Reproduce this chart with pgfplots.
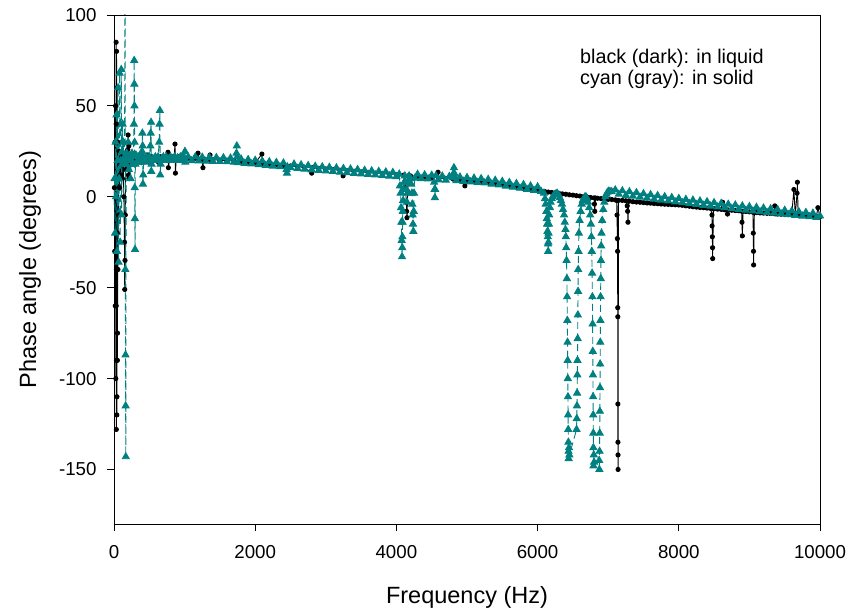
\documentclass[border=0pt]{standalone}
\usepackage{fontspec}
\setmainfont{Liberation Sans}
\usepackage{pgfplots}
\pgfplotsset{compat=1.18}
\definecolor{tealc}{RGB}{0,128,128}
\begin{document}
\begin{tikzpicture}
\useasboundingbox (-114pt,-87pt) rectangle (738pt,524pt);
\begin{axis}[
  scale only axis, width=706pt, height=509pt,
  xmin=0, xmax=10000, ymin=-180, ymax=100,
  xtick={0,2000,4000,6000,8000,10000},
  ytick={-150,-100,-50,0,50,100},
  scaled x ticks=false,
  xtick pos=bottom, ytick pos=left, tick align=outside,
  major tick length=7pt,
  axis line style={line width=0.9pt},
  tick style={line width=0.9pt, black},
  /pgf/number format/assume math mode=true,
  /pgf/number format/1000 sep={},
  ticklabel style={font=\fontsize{18.7}{21}\selectfont},
  xticklabel style={yshift=-11pt},
  yticklabel style={xshift=-7pt},
  xlabel={Frequency (Hz)}, ylabel={Phase angle (degrees)},
  label style={font=\fontsize{23.5}{26}\selectfont},
  xlabel style={at={(axis description cs:0.5,-0.1434)}, anchor=center},
  ylabel style={at={(axis description cs:-0.119,0.5)}, anchor=center},
]
% black (in liquid)
\addplot[black, line width=0.9pt, mark=*, mark size=2.1pt] coordinates {
(5,5) (10,-30) (14,30) (18,-60) (22,50) (26,-100) (28,-20) (30,85) (31,40) (32,-60) (33,-128) (34,-90) (35,-40) (36,80) (38,20) (40,-120) (42,-110) (44,60) (46,-20) (48,-90) (50,-75) (52,30) (56,-40) (60,20) (66,-10) (72,25) (80,5) (90,20) (100,12) (110,22) (120,10) (130,20) (140,0) (148,-25) (152,-51) (156,-35) (160,-10) (165,15) (175,22) (185,18) (195,26) (200,34) (205,12) (210,28) (215,10) (222,22) (240,20) (260,23) (280,18) (300,22) (330,20) (360,23) (390,19) (420,22) (450,20) (480,23) (510,19) (540,22) (570,20) (600,22) (630,19) (660,22) (690,20) (720,22) (750,20) (765,24.5) (770,16) (790,21) (820,22) (850,20) (864,29) (870,13) (880,20) (910,22) (940,20) (970,22) (1000,20.5)
(1050,21) (1100,20.5) (1150,21.2) (1190,24) (1200,20.8) (1250,20.4) (1260,16) (1270,20.6) (1300,20.2) (1360,23) (1370,20) (1400,20.4) (1500,20.1) (1600,19.9) (1700,19.7) (1800,19.3) (1900,19.0) (2000,18.6) (2095,23.5) (2100,18.3) (2200,18.0) (2300,17.6) (2400,17.2) (2500,16.9) (2600,16.5) (2700,16.2) (2800,13) (2810,16) (2900,15.6) (3000,15.3) (3100,15.0) (3200,14.6) (3245,11.5) (3300,14.3) (3400,14.0) (3500,13.7) (3600,13.3) (3700,13.0) (3800,12.8) (3900,12.5) (4000,12.2) (4100,11.9) (4130,5) (4140,-3) (4145,-8) (4150,-11.5) (4160,3) (4170,11.6) (4200,11.5) (4300,11.2) (4400,10.9) (4500,10.6) (4590,13.5) (4600,10.3) (4700,10.0) (4800,9.8) (4900,9.4) (4970,6) (5000,9.1) (5100,8.7) (5200,8.3) (5300,7.8) (5400,7.3) (5500,6.7)
(5550,6.3) (5600,6.0) (5650,5.6) (5700,5.3) (5750,5.0) (5800,4.6) (5850,4.3) (5900,4.0) (5950,3.7) (6000,3.4) (6050,3.1) (6100,2.9) (6150,2.6) (6200,2.4) (6250,2.1) (6300,1.9) (6350,1.6) (6400,1.4) (6450,1.1) (6500,0.9) (6550,0.6) (6600,0.4) (6650,0.1) (6700,-0.1) (6750,-0.4) (6800,-0.6) (6805,-4) (6810,-8) (6820,-0.7) (6850,-0.8) (6900,-1.0) (6950,-1.2) (7000,-1.4) (7050,-1.5) (7100,-1.7) (7120,-2) (7125,-10) (7130,-23) (7133,-30) (7135,-61) (7136,-66) (7137,-114) (7138,-135) (7139,-142) (7140,-150) (7145,-2) (7200,-2.0) (7250,-2.2) (7270,-5) (7275,-8) (7280,-14) (7290,-2.3) (7300,-2.4)
(7350,-2.7) (7400,-2.9) (7450,-3.0) (7500,-3.2) (7550,-3.4) (7600,-3.5) (7650,-3.7) (7700,-3.8) (7750,-4.0) (7800,-4.1) (7850,-4.2) (7900,-4.3) (7950,-4.4) (8000,-4.5) (8050,-4.7) (8100,-5.0) (8150,-5.2) (8200,-5.5) (8250,-5.7) (8300,-5.9) (8350,-6.0) (8400,-6.2) (8450,-6.4) (8470,-10) (8472,-16) (8475,-22) (8478,-28) (8480,-34) (8490,-6.6) (8500,-6.6) (8550,-6.8) (8600,-6.9) (8620,-3) (8640,-7.0) (8650,-7.1) (8680,-7.2) (8690,-9.5) (8700,-7.3) (8750,-7.4) (8800,-7.6) (8850,-7.7) (8890,-7.9) (8895,-14) (8900,-21.5) (8910,-8) (8950,-8.1) (9000,-8.3) (9050,-8.5) (9055,-20) (9058,-30) (9060,-37.5) (9070,-8.6) (9100,-8.7) (9150,-8.9) (9200,-9.0) (9250,-9.1) (9300,-9.2) (9350,-9.3) (9360,-5) (9370,-9.4) (9400,-9.5) (9450,-9.6) (9500,-9.7) (9550,-9.8) (9600,-9.9) (9630,4) (9650,-10) (9675,2) (9680,8) (9690,-10) (9700,-10.1) (9750,-10.2) (9800,-10.3) (9850,-10.5) (9900,-10.6) (9950,-10.8) (9970,-6) (10000,-11)
};
% cyan (in solid)
\addplot[tealc, line width=0.9pt, dash pattern=on 7pt off 4pt, mark=triangle*, mark size=4pt, mark options={solid, fill=tealc, draw=tealc}] coordinates {
(8,10) (15,-20) (22,30) (28,0) (35,45) (42,-30) (50,20) (58,60) (65,-36) (72,10) (80,68) (88,-25) (95,20) (103,70) (108,-10) (115,25) (122,40) (128,18) (135,30) (142,20) (150,22) (158,175) (161,-40) (163,-87) (165,-115) (167,-143) (172,18) (180,24) (190,21) (200,30) (210,15) (220,22) (235,10) (245,20) (255,24) (265,18) (275,22) (282,40) (286,75) (288,62) (290,50) (292,30) (294,5) (296,-12) (298,-29) (302,18) (310,23) (325,19) (340,22) (355,20) (370,23) (385,19) (398,25) (402,35) (406,28) (410,7) (414,12) (420,21) (440,19) (460,22) (480,20) (500,22) (515,28) (520,35) (525,41) (528,14) (532,18) (545,21) (565,20) (585,22) (605,20) (625,22) (640,30) (645,40) (650,47.5) (655,12) (660,18) (680,21) (700,22) (720,20) (740,22) (760,20) (780,21) (800,22) (820,20) (840,21) (860,22) (880,20) (900,21.5) (920,20) (940,22) (960,20.5) (980,21.5) (1000,21) (1005,25) (1010,19)
(1050,22.0) (1100,19.8) (1150,21.9) (1200,19.7) (1250,21.8) (1300,19.6) (1350,21.7) (1400,19.5) (1450,21.6) (1500,19.4) (1550,21.5) (1600,19.3) (1650,21.3) (1700,19.0) (1735,24) (1740,28) (1745,22) (1750,18.8) (1800,20.8) (1850,18.4) (1900,20.5) (1950,18.1) (2000,20.1) (2050,17.7) (2100,19.7) (2150,17.3) (2200,19.3) (2250,16.9) (2300,18.9) (2350,16.5) (2400,18.6) (2445,15) (2450,13) (2455,16.5) (2500,16.0) (2550,18.0) (2600,15.6) (2650,17.6) (2700,15.2) (2750,17.2) (2800,14.8) (2850,16.8) (2900,14.5) (2950,16.5) (3000,14.2) (3050,16.2) (3100,13.9) (3150,15.9) (3200,13.5) (3250,15.6) (3300,13.2) (3350,15.3) (3400,12.9) (3450,15.0) (3500,12.6) (3550,14.6) (3600,12.3) (3650,14.3) (3700,12.0) (3750,14.0) (3800,11.7) (3850,13.7) (3900,11.4) (3950,13.4) (4000,11.1)
(4040,12.5) (4050,6) (4060,2) (4065,-6) (4070,-14) (4075,-24) (4080,-33) (4083,-28) (4085,-22) (4088,-14) (4090,-8) (4095,-2) (4100,4) (4110,8) (4120,11.5) (4130,8) (4140,4) (4150,-3) (4155,2) (4160,8) (4180,11.5) (4200,10) (4210,7) (4220,2) (4225,-4) (4230,-10) (4235,-15) (4240,-19) (4245,-8) (4250,2) (4260,10.2) (4300,12.4) (4350,10.0) (4400,12.1) (4450,9.8) (4500,11.9) (4535,8) (4540,4) (4545,-0.5) (4550,4) (4560,11.6) (4600,9.3) (4650,11.4) (4700,9.1) (4750,11.2) (4800,10.5) (4810,13) (4815,16) (4820,13) (4830,10.5) (4850,8.8) (4900,10.9) (4950,8.5) (5000,10.6) (5050,8.2) (5100,10.3) (5150,7.9) (5200,10.0) (5250,7.6) (5300,9.6) (5350,7.0) (5400,9.1) (5450,6.5) (5500,8.5) (5550,5.9) (5600,7.9) (5650,5.3) (5700,7.3) (5750,4.7) (5800,6.7) (5850,4.1) (5900,6.0) (5950,3.5) (6000,5.5) (6050,3.0) (6090,2)
(6105,-1) (6115,-4) (6125,-8) (6130,-12) (6135,-15) (6140,-19) (6145,-22) (6148,-26) (6150,-30) (6153,-25) (6155,-20) (6160,-15) (6165,-10) (6175,-6) (6185,-3) (6200,-1) (6215,0) (6235,1) (6250,1.5) (6275,2) (6300,1) (6315,-0.5) (6330,-2) (6345,-4) (6360,-7) (6375,-10) (6385,-14) (6395,-18) (6400,-22) (6405,-28) (6410,-35) (6415,-45) (6418,-55) (6421,-68) (6424,-80) (6426,-90) (6428,-100) (6430,-110) (6432,-120) (6434,-128) (6436,-135) (6438,-140) (6440,-144) (6445,-138) (6450,-142) (6552,-128) (6555,-122) (6558,-115) (6560,-108) (6563,-98) (6565,-90) (6568,-78) (6570,-65) (6573,-52) (6575,-40) (6580,-30) (6585,-20) (6595,-13) (6610,-8) (6625,-4) (6640,-2) (6655,-1) (6671,0) (6685,0) (6700,-1) (6715,-3) (6730,-6) (6745,-10) (6755,-15) (6762,-22) (6768,-30) (6772,-42) (6776,-55) (6779,-70) (6782,-85) (6784,-98) (6786,-110) (6788,-120) (6789,-130) (6790,-138) (6792,-148) (6796,-142) (6800,-146) (6872,-145) (6875,-150) (6878,-140) (6880,-130) (6882,-118) (6884,-105) (6886,-92) (6888,-80) (6890,-68) (6892,-55) (6895,-45) (6897,-35) (6900,-27) (6905,-20) (6915,-13) (6930,-7) (6945,-3) (6960,0) (6975,1.5) (6990,2.5) (7005,3) (7025,3) (7050,2.8)
(7100,3.8) (7150,1.4) (7200,3.3) (7250,0.8) (7300,2.8) (7350,0.3) (7400,2.3) (7450,-0.2) (7500,1.7) (7550,-0.7) (7600,1.2) (7650,-1.3) (7700,0.7) (7750,-1.8) (7800,0.1) (7850,-2.3) (7900,-0.4) (7950,-2.8) (8000,-0.9) (8050,-3.3) (8100,-1.4) (8150,-3.8) (8200,-1.8) (8250,-4.2) (8300,-2.3) (8350,-4.7) (8400,-2.7) (8450,-5.1) (8500,-3.2) (8550,-5.6) (8600,-3.6) (8650,-6.0) (8700,-4.1) (8750,-6.5) (8800,-4.5) (8850,-6.9) (8900,-5.0) (8950,-7.4) (9000,-5.4) (9050,-7.8) (9100,-5.8) (9150,-8.2) (9200,-6.2) (9250,-8.6) (9300,-6.6) (9350,-9.0) (9400,-7.0) (9450,-9.4) (9500,-7.4) (9550,-9.8) (9600,-7.8) (9650,-10.2) (9700,-8.2) (9750,-10.6) (9800,-8.6) (9850,-11.0) (9900,-9.0) (9950,-11.4) (10000,-10.5)
};
\node[anchor=north west, inner sep=0pt, align=left, font=\fontsize{19.8}{21}\selectfont] at (rel axis cs:0.66,0.933) {black (dark): in liquid\\cyan (gray): in solid};
\end{axis}
\end{tikzpicture}
\end{document}
